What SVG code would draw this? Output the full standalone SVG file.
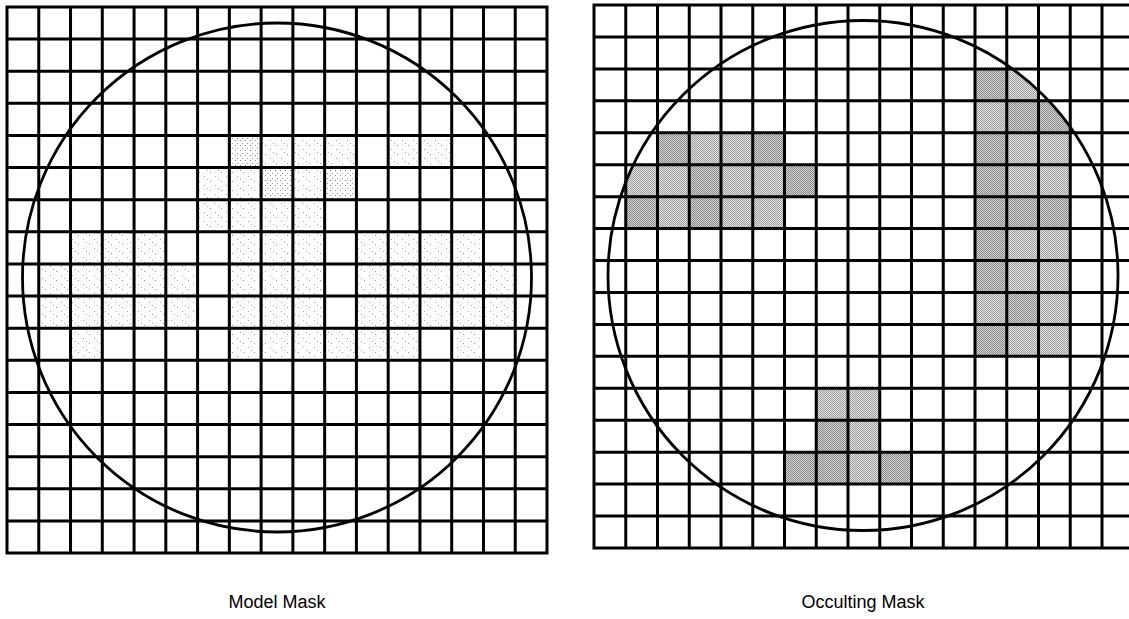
<svg xmlns="http://www.w3.org/2000/svg" width="1129" height="619" viewBox="0 0 1129 619">
<style>
.grid{fill:none;stroke:#000;stroke-width:3;stroke-linecap:square}
.ring{fill:none;stroke:#000;stroke-width:2.8}
.lbl{font-family:"Liberation Sans",Arial,sans-serif;font-size:18px;fill:#000;text-anchor:middle}
.sp{fill:url(#speck)}
.spd{fill:url(#speckD)}
.oc{fill:url(#stip)}
.ocl{fill:url(#stipL)}
</style>
<defs>
<pattern id="speck" width="11" height="9" patternUnits="userSpaceOnUse">
<rect x="1" y="1" width="1" height="1" fill="#999"/>
<rect x="6" y="5" width="1" height="1" fill="#aaa"/>
<rect x="9" y="8" width="1" height="1" fill="#aaa"/>
</pattern>
<pattern id="speckD" width="5" height="5" patternUnits="userSpaceOnUse">
<rect x="0" y="0" width="1" height="1" fill="#888"/>
<rect x="2" y="3" width="1" height="1" fill="#999"/>
</pattern>
<pattern id="stip" width="2" height="2" patternUnits="userSpaceOnUse">
<rect width="2" height="2" fill="#d0d0d0"/>
<rect x="0" y="0" width="1" height="1" fill="#8c8c8c"/>
<rect x="1" y="1" width="1" height="1" fill="#8c8c8c"/>
</pattern>
<pattern id="stipL" width="2" height="2" patternUnits="userSpaceOnUse">
<rect width="2" height="2" fill="#e0e0e0"/>
<rect x="0" y="0" width="1" height="1" fill="#a0a0a0"/>
<rect x="1" y="1" width="1" height="1" fill="#a0a0a0"/>
</pattern>
<clipPath id="clipL"><circle cx="277" cy="277.5" r="254.5"/></clipPath>
<clipPath id="clipR"><circle cx="863" cy="275.5" r="255"/></clipPath>
</defs>
<rect width="1129" height="619" fill="#fff"/>

<g id="model-mask">
<g id="model-shading" clip-path="url(#clipL)">
<!-- row 4 -->
<rect class="spd" x="229.35" y="135.47" width="31.76" height="32.12"/>
<rect class="sp" x="261.12" y="135.47" width="31.76" height="32.12"/>
<rect class="sp" x="292.88" y="135.47" width="31.76" height="32.12"/>
<rect class="sp" x="324.65" y="135.47" width="31.76" height="32.12"/>
<rect class="sp" x="388.18" y="135.47" width="31.76" height="32.12"/>
<rect class="sp" x="419.94" y="135.47" width="31.76" height="32.12"/>
<!-- row 5 -->
<rect class="sp" x="197.59" y="167.59" width="31.76" height="32.12"/>
<rect class="sp" x="229.35" y="167.59" width="31.76" height="32.12"/>
<rect class="spd" x="261.12" y="167.59" width="31.76" height="32.12"/>
<rect class="sp" x="292.88" y="167.59" width="31.76" height="32.12"/>
<rect class="spd" x="324.65" y="167.59" width="31.76" height="32.12"/>
<!-- row 6 -->
<rect class="sp" x="197.59" y="199.71" width="31.76" height="32.12"/>
<rect class="sp" x="229.35" y="199.71" width="31.76" height="32.12"/>
<rect class="sp" x="261.12" y="199.71" width="31.76" height="32.12"/>
<rect class="sp" x="292.88" y="199.71" width="31.76" height="32.12"/>
<!-- row 7 -->
<rect class="sp" x="70.53" y="231.82" width="31.76" height="32.12"/>
<rect class="sp" x="102.29" y="231.82" width="31.76" height="32.12"/>
<rect class="sp" x="134.06" y="231.82" width="31.76" height="32.12"/>
<rect class="sp" x="229.35" y="231.82" width="31.76" height="32.12"/>
<rect class="sp" x="261.12" y="231.82" width="31.76" height="32.12"/>
<rect class="sp" x="292.88" y="231.82" width="31.76" height="32.12"/>
<rect class="sp" x="356.41" y="231.82" width="31.76" height="32.12"/>
<rect class="sp" x="388.18" y="231.82" width="31.76" height="32.12"/>
<rect class="sp" x="419.94" y="231.82" width="31.76" height="32.12"/>
<rect class="sp" x="451.71" y="231.82" width="31.76" height="32.12"/>
<!-- row 8 -->
<rect class="sp" x="38.76" y="263.94" width="31.76" height="32.12"/>
<rect class="sp" x="70.53" y="263.94" width="31.76" height="32.12"/>
<rect class="sp" x="102.29" y="263.94" width="31.76" height="32.12"/>
<rect class="sp" x="134.06" y="263.94" width="31.76" height="32.12"/>
<rect class="sp" x="165.82" y="263.94" width="31.76" height="32.12"/>
<rect class="sp" x="229.35" y="263.94" width="31.76" height="32.12"/>
<rect class="sp" x="261.12" y="263.94" width="31.76" height="32.12"/>
<rect class="sp" x="292.88" y="263.94" width="31.76" height="32.12"/>
<rect class="sp" x="356.41" y="263.94" width="31.76" height="32.12"/>
<rect class="sp" x="388.18" y="263.94" width="31.76" height="32.12"/>
<rect class="sp" x="419.94" y="263.94" width="31.76" height="32.12"/>
<rect class="sp" x="451.71" y="263.94" width="31.76" height="32.12"/>
<rect class="sp" x="483.47" y="263.94" width="31.76" height="32.12"/>
<!-- row 9 -->
<rect class="sp" x="38.76" y="296.06" width="31.76" height="32.12"/>
<rect class="sp" x="70.53" y="296.06" width="31.76" height="32.12"/>
<rect class="sp" x="102.29" y="296.06" width="31.76" height="32.12"/>
<rect class="sp" x="134.06" y="296.06" width="31.76" height="32.12"/>
<rect class="sp" x="165.82" y="296.06" width="31.76" height="32.12"/>
<rect class="sp" x="229.35" y="296.06" width="31.76" height="32.12"/>
<rect class="sp" x="261.12" y="296.06" width="31.76" height="32.12"/>
<rect class="sp" x="292.88" y="296.06" width="31.76" height="32.12"/>
<rect class="sp" x="356.41" y="296.06" width="31.76" height="32.12"/>
<rect class="sp" x="388.18" y="296.06" width="31.76" height="32.12"/>
<rect class="sp" x="419.94" y="296.06" width="31.76" height="32.12"/>
<rect class="sp" x="451.71" y="296.06" width="31.76" height="32.12"/>
<rect class="sp" x="483.47" y="296.06" width="31.76" height="32.12"/>
<!-- row 10 -->
<rect class="sp" x="70.53" y="328.18" width="31.76" height="32.12"/>
<rect class="sp" x="229.35" y="328.18" width="31.76" height="32.12"/>
<rect class="sp" x="261.12" y="328.18" width="31.76" height="32.12"/>
<rect class="sp" x="292.88" y="328.18" width="31.76" height="32.12"/>
<rect class="sp" x="324.65" y="328.18" width="31.76" height="32.12"/>
<rect class="sp" x="356.41" y="328.18" width="31.76" height="32.12"/>
<rect class="sp" x="388.18" y="328.18" width="31.76" height="32.12"/>
<rect class="sp" x="451.71" y="328.18" width="31.76" height="32.12"/>
</g>
<path id="model-grid" class="grid" d="M7,7V553M38.76,7V553M70.53,7V553M102.29,7V553M134.06,7V553M165.82,7V553M197.59,7V553M229.35,7V553M261.12,7V553M292.88,7V553M324.65,7V553M356.41,7V553M388.18,7V553M419.94,7V553M451.71,7V553M483.47,7V553M515.24,7V553M547,7V553M7,7H547M7,39.12H547M7,71.24H547M7,103.35H547M7,135.47H547M7,167.59H547M7,199.71H547M7,231.82H547M7,263.94H547M7,296.06H547M7,328.18H547M7,360.29H547M7,392.41H547M7,424.53H547M7,456.65H547M7,488.76H547M7,520.88H547M7,553H547"/>
<circle id="model-circle" class="ring" cx="277" cy="277.5" r="254.5"/>
<text class="lbl" x="277" y="608">Model Mask</text>
</g>

<g id="occulting-mask">
<g id="occulting-shading" clip-path="url(#clipR)">
<!-- upper-left block -->
<rect class="oc" x="657.5" y="132.76" width="31.75" height="31.94"/>
<rect class="ocl" x="689.25" y="132.76" width="31.75" height="31.94"/>
<rect class="ocl" x="721" y="132.76" width="31.75" height="31.94"/>
<rect class="oc" x="752.75" y="132.76" width="31.75" height="31.94"/>
<rect class="ocl" x="625.75" y="164.71" width="31.75" height="31.94"/>
<rect class="ocl" x="657.5" y="164.71" width="31.75" height="31.94"/>
<rect class="oc" x="689.25" y="164.71" width="31.75" height="31.94"/>
<rect class="ocl" x="721" y="164.71" width="31.75" height="31.94"/>
<rect class="ocl" x="752.75" y="164.71" width="31.75" height="31.94"/>
<rect class="oc" x="784.5" y="164.71" width="31.75" height="31.94"/>
<rect class="oc" x="625.75" y="196.65" width="31.75" height="31.94"/>
<rect class="ocl" x="657.5" y="196.65" width="31.75" height="31.94"/>
<rect class="oc" x="689.25" y="196.65" width="31.75" height="31.94"/>
<rect class="ocl" x="721" y="196.65" width="31.75" height="31.94"/>
<rect class="ocl" x="752.75" y="196.65" width="31.75" height="31.94"/>
<!-- right column block -->
<rect class="oc" x="975" y="68.88" width="31.75" height="31.94"/>
<rect class="ocl" x="1006.75" y="68.88" width="31.75" height="31.94"/>
<rect class="ocl" x="975" y="100.82" width="31.75" height="31.94"/>
<rect class="oc" x="1006.75" y="100.82" width="31.75" height="31.94"/>
<rect class="oc" x="1038.5" y="100.82" width="31.75" height="31.94"/>
<rect class="oc" x="975" y="132.76" width="31.75" height="31.94"/>
<rect class="ocl" x="1006.75" y="132.76" width="31.75" height="31.94"/>
<rect class="ocl" x="1038.5" y="132.76" width="31.75" height="31.94"/>
<rect class="oc" x="975" y="164.71" width="31.75" height="31.94"/>
<rect class="ocl" x="1006.75" y="164.71" width="31.75" height="31.94"/>
<rect class="ocl" x="1038.5" y="164.71" width="31.75" height="31.94"/>
<rect class="oc" x="975" y="196.65" width="31.75" height="31.94"/>
<rect class="oc" x="1006.75" y="196.65" width="31.75" height="31.94"/>
<rect class="oc" x="1038.5" y="196.65" width="31.75" height="31.94"/>
<rect class="oc" x="975" y="228.59" width="31.75" height="31.94"/>
<rect class="ocl" x="1006.75" y="228.59" width="31.75" height="31.94"/>
<rect class="ocl" x="1038.5" y="228.59" width="31.75" height="31.94"/>
<rect class="oc" x="975" y="260.53" width="31.75" height="31.94"/>
<rect class="ocl" x="1006.75" y="260.53" width="31.75" height="31.94"/>
<rect class="ocl" x="1038.5" y="260.53" width="31.75" height="31.94"/>
<rect class="ocl" x="975" y="292.47" width="31.75" height="31.94"/>
<rect class="oc" x="1006.75" y="292.47" width="31.75" height="31.94"/>
<rect class="ocl" x="1038.5" y="292.47" width="31.75" height="31.94"/>
<rect class="oc" x="975" y="324.41" width="31.75" height="31.94"/>
<rect class="ocl" x="1006.75" y="324.41" width="31.75" height="31.94"/>
<rect class="ocl" x="1038.5" y="324.41" width="31.75" height="31.94"/>
<!-- bottom block -->
<rect class="ocl" x="816.25" y="388.29" width="31.75" height="31.94"/>
<rect class="ocl" x="848" y="388.29" width="31.75" height="31.94"/>
<rect class="oc" x="816.25" y="420.24" width="31.75" height="31.94"/>
<rect class="ocl" x="848" y="420.24" width="31.75" height="31.94"/>
<rect class="oc" x="784.5" y="452.18" width="31.75" height="31.94"/>
<rect class="oc" x="816.25" y="452.18" width="31.75" height="31.94"/>
<rect class="ocl" x="848" y="452.18" width="31.75" height="31.94"/>
<rect class="oc" x="879.75" y="452.18" width="31.75" height="31.94"/>
</g>
<path id="occulting-grid" class="grid" d="M594,5V548M625.75,5V548M657.5,5V548M689.25,5V548M721,5V548M752.75,5V548M784.5,5V548M816.25,5V548M848,5V548M879.75,5V548M911.5,5V548M943.25,5V548M975,5V548M1006.75,5V548M1038.5,5V548M1070.25,5V548M1102,5V548M1133.75,5V548M594,5H1134M594,36.94H1134M594,68.88H1134M594,100.82H1134M594,132.76H1134M594,164.71H1134M594,196.65H1134M594,228.59H1134M594,260.53H1134M594,292.47H1134M594,324.41H1134M594,356.35H1134M594,388.29H1134M594,420.24H1134M594,452.18H1134M594,484.12H1134M594,516.06H1134M594,548H1134"/>
<circle id="occulting-circle" class="ring" cx="863" cy="275.5" r="255"/>
<text class="lbl" x="863" y="608">Occulting Mask</text>
</g>
</svg>
